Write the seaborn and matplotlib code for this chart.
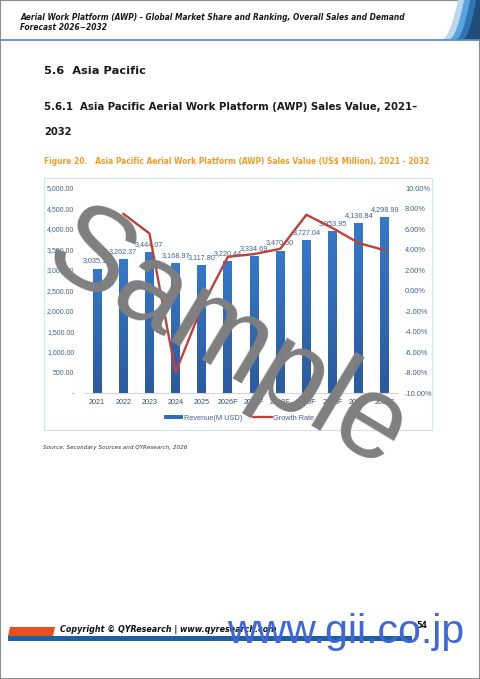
import numpy as np
import matplotlib
matplotlib.use("Agg")
import matplotlib.pyplot as plt
import seaborn as sns
from matplotlib.patches import Rectangle, Polygon, Patch
from matplotlib.lines import Line2D
from matplotlib.colors import LinearSegmentedColormap

# chart data
years = ["2021", "2022", "2023", "2024", "2025", "2026F",
         "2027F", "2028F", "2029F", "2030F", "2031F", "2032F"]
revenue = [3035.12, 3262.37, 3444.07, 3168.97, 3117.80, 3220.44,
           3334.69, 3470.50, 3727.04, 3953.95, 4136.84, 4298.99]
growth_years = years[1:]
growth = [7.49, 5.57, -7.99, -1.61, 3.29, 3.55, 4.07, 7.39, 6.09, 4.63, 3.92]
rev_ticks = [0, 500, 1000, 1500, 2000, 2500, 3000, 3500, 4000, 4500, 5000]
rate_ticks = [-10, -8, -6, -4, -2, 0, 2, 4, 6, 8, 10]

W, H = 480, 679
bar_col = "#2F6DB9"
line_col = "#C0413B"
tick_col = "#44608F"
orange = "#F59A23"
chart_font = ["Liberation Sans", "DejaVu Sans"]

sns.set_theme(style="white")
plt.rcParams["font.family"] = ["DejaVu Sans"]

fig = plt.figure(figsize=(W / 100, H / 100), dpi=100)
renderer = fig.canvas.get_renderer()


def fx(x):
    return x / W


def fy(y):
    return 1 - y / H


def put(x, y, s, width=None, **kw):
    kw.setdefault("va", "center")
    t = fig.text(fx(x), fy(y), s, **kw)
    if width:
        bb = t.get_window_extent(renderer)
        t.set_fontsize(t.get_fontsize() * width / bb.width)
    return t


# page frame and header
fig.add_artist(Rectangle((0, 0), 1, 1, transform=fig.transFigure, fill=False,
                         edgecolor="#8C8C8C", lw=1.5))
fig.add_artist(Line2D([0, 1], [fy(40), fy(40)], transform=fig.transFigure,
                      color="#5B8FC9", lw=1.3))
for i, c in enumerate(["#BDD7EE", "#5BA3DC", "#2E75B6", "#1F4E79"]):
    xb, xt = 441 + 7 * i, 458 + 6 * i
    t = np.linspace(0, 1, 20)
    cx = xb + (xt - xb) * np.sqrt(t)
    cy = 40 - 40 * t
    pts = [(fx(a), fy(b)) for a, b in zip(cx, cy)] + [(1, fy(0)), (1, fy(40))]
    fig.add_artist(Polygon(pts, closed=True, transform=fig.transFigure,
                           facecolor=c, edgecolor="none"))

put(20, 17, "Aerial Work Platform (AWP) - Global Market Share and Ranking, Overall Sales and Demand",
    387, fontsize=6, fontweight="bold", style="italic", color="#1A1A1A")
put(20, 27, "Forecast 2026\u22122032", 88, fontsize=6, fontweight="bold",
    style="italic", color="#1A1A1A")

put(44, 71, "5.6  Asia Pacific", 101, fontsize=10, fontweight="bold", color="#1A1A1A")
put(44, 107, "5.6.1  Asia Pacific Aerial Work Platform (AWP) Sales Value, 2021\u2013",
    372, fontsize=10, fontweight="bold", color="#1A1A1A")
put(44, 132, "2032", 28, fontsize=10, fontweight="bold", color="#1A1A1A")
put(44, 161, "Figure 20.   Asia Pacific Aerial Work Platform (AWP) Sales Value (US$ Million), 2021 - 2032",
    387, fontsize=7, fontweight="bold", color=orange)

# chart frame
fig.add_artist(Rectangle((fx(44), fy(430)), fx(432) - fx(44), (430 - 178) / H,
                         transform=fig.transFigure, fill=False,
                         edgecolor="#D9E1EC", lw=0.9))

ax = fig.add_axes([fx(84), fy(393), fx(398) - fx(84), (393 - 188) / H])
sns.barplot(x=years, y=revenue, ax=ax, color=bar_col, saturation=1, width=0.34)

# light vertical gradient on the bars, like the Excel fill
grad = np.linspace(0, 1, 128).reshape(-1, 1)
bar_cmap = LinearSegmentedColormap.from_list("bars", ["#2A5A9F", "#3678CB"])
for p in ax.containers[0]:
    x0, w, h = p.get_x(), p.get_width(), p.get_height()
    im = ax.imshow(grad, extent=[x0, x0 + w, 0, h], origin="lower",
                   cmap=bar_cmap, aspect="auto", zorder=p.get_zorder() + 0.1)
    im.set_clip_path(p)

ax.set_xlim(-0.5, len(years) - 0.5)
ax.set_ylim(rev_ticks[0], rev_ticks[-1])
ax.set_yticks(rev_ticks)
ax.set_yticklabels(["-" if v == 0 else f"{v:,.2f}" for v in rev_ticks],
                   family=chart_font)
ax.set_xticks(range(len(years)))
ax.set_xticklabels(years, family=chart_font)
ax.set_xlabel("")
ax.set_ylabel("")
ax.bar_label(ax.containers[0], labels=[f"{v:,.2f}" for v in revenue],
             fontsize=5.2, color=tick_col, padding=3, family=chart_font)
ax.tick_params(axis="y", length=0, pad=7, labelsize=5, labelcolor=tick_col)
ax.tick_params(axis="x", length=0, pad=4, labelsize=5.2, labelcolor="#3C4E6E")
for s in ["top", "left", "right"]:
    ax.spines[s].set_visible(False)
ax.spines["bottom"].set_color("#D0D7E2")
ax.spines["bottom"].set_linewidth(0.8)
ax.patch.set_alpha(0)

ax2 = ax.twinx()
line_x = [years.index(y) for y in growth_years]
sns.lineplot(x=line_x, y=growth, ax=ax2, color=line_col, lw=1.7)
ax2.set_ylim(rate_ticks[0], rate_ticks[-1])
ax2.set_yticks(rate_ticks)
ax2.set_yticklabels([f"{v:.2f}%" for v in rate_ticks], family=chart_font)
ax2.set_ylabel("")
ax2.tick_params(axis="y", length=0, pad=5, labelsize=5.3, labelcolor=tick_col)
for s in ax2.spines.values():
    s.set_visible(False)
ax2.grid(False)
ax.grid(False)

handles = [Patch(facecolor=bar_col, edgecolor="none"),
           Line2D([], [], color=line_col, lw=1.7)]
fig.legend(handles, ["Revenue(M USD)", "Growth Rate"], loc="center",
           bbox_to_anchor=(fx(239), fy(418)), ncol=2, frameon=False,
           prop={"family": chart_font, "size": 5.3}, labelcolor=tick_col,
           handlelength=2.6, handleheight=0.6, columnspacing=1.4,
           handletextpad=0.1)

put(43, 447, "Source: Secondary Sources and QYResearch, 2026", 145,
    fontsize=5, style="italic", color="#333333")

# footer
fig.add_artist(Polygon([(fx(10), fy(627)), (fx(55), fy(627)), (fx(53), fy(636)),
                        (fx(8), fy(636))], closed=True, transform=fig.transFigure,
                       facecolor="#E5501E", edgecolor="none"))
fig.add_artist(Rectangle((fx(8), fy(641)), fx(412) - fx(8), 5 / H,
                         transform=fig.transFigure, facecolor="#1F60A3",
                         edgecolor="none"))
put(60, 630, "Copyright \u00a9 QYResearch | www.qyresearch.com", None,
    fontsize=5.8, fontweight="bold", style="italic", color="#111111")
put(416, 625, "54", None, fontsize=5.8, fontweight="bold", color="#111111")

# watermarks
fig.text(fx(227), fy(342), "Sample", rotation=-31, rotation_mode="anchor",
         ha="center", va="center", fontsize=85, color="#7F7F7F",
         family=chart_font, zorder=10)
fig.text(fx(346), fy(643), "www.gii.co.jp", ha="center", va="baseline",
         fontsize=29.5, color="#3F66DD", family=chart_font, zorder=10)

fig.savefig("out.png", dpi=100)
